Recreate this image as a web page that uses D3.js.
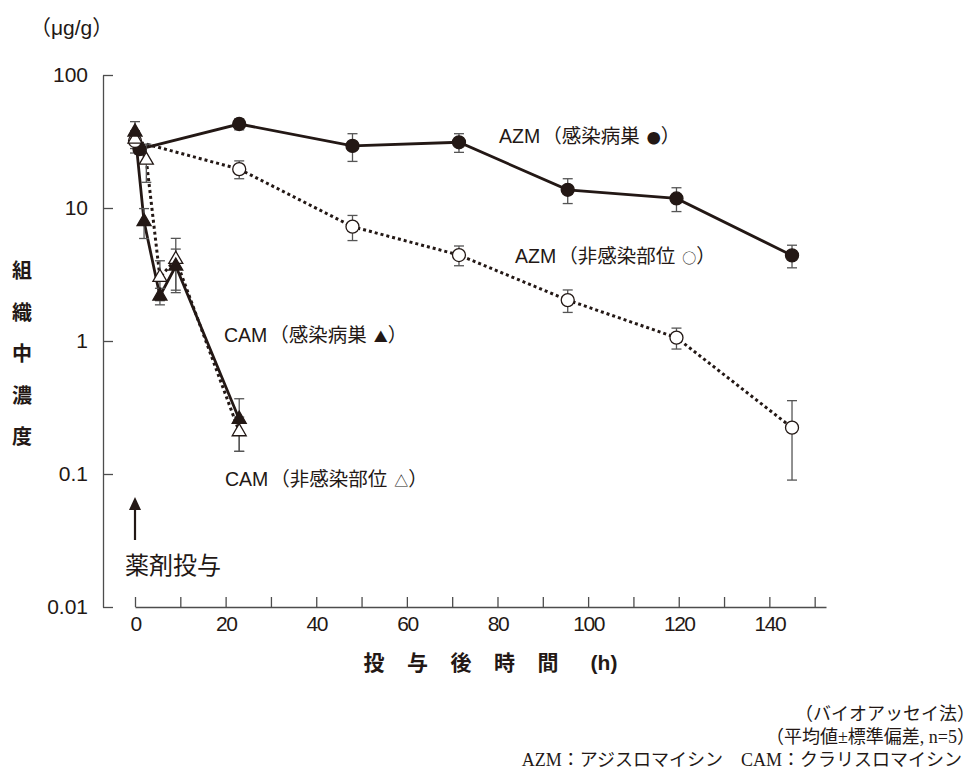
<!DOCTYPE html>
<html>
<head>
<meta charset="utf-8">
<script src="https://cdn.jsdelivr.net/npm/d3@7"></script>
<style>
	body{margin:0;background:#fff;}
	text{fill:#231815;font-family:"Liberation Sans","Noto Sans CJK JP",sans-serif;}
	.mk{font-family:"Noto Sans CJK JP",sans-serif;}
	.serif{font-family:"Liberation Serif","Noto Sans CJK JP",serif;}
</style>
</head>
<body>
<script>
// time (h), mean (ug/g), SD
var azmInfTime = [1, 23, 48, 71.5, 95.5, 119.5, 145];
var azmInfMean = [27.7, 42.8, 29.3, 31.2, 13.7, 11.8, 4.4];
var azmInfSd   = [2.4, 4.1, 6.9, 5.0, 2.9, 2.4, 0.85];

var azmNonTime = [0, 23, 48, 71.5, 95.5, 119.5, 145];
var azmNonMean = [31.9, 19.6, 7.24, 4.43, 2.03, 1.06, 0.223];
var azmNonSd   = [6, 3.0, 1.55, 0.75, 0.39, 0.19, 0.133];

var camInfTime = [0, 2, 5.5, 9, 23];
var camInfMean = [37.3, 7.9, 2.18, 3.66, 0.258];
var camInfSd   = [7.3, 2.0, 0.31, 1.25, 0.11];

var camNonTime = [0, 2.5, 5.5, 9, 23];
var camNonMean = [33, 22.9, 3.01, 4.11, 0.208];
var camNonSd   = [5, 7.3, 1.0, 1.8, 0.06];

var yTicks = [0.01, 0.1, 1, 10, 100];
var yTickLabels = ["0.01", "0.1", "1", "10", "100"];
var xTicks = [0, 10, 20, 30, 40, 50, 60, 70, 80, 90, 100, 110, 120, 130, 140, 150];
var xTickLabels = ["0", "", "20", "", "40", "", "60", "", "80", "", "100", "", "120", "", "140", ""];

var ink = "#231815";
var axisColor = "#4d4d4d";

var svg = d3.select("body")
	.append("svg")
	.attr("width", 974)
	.attr("height", 772);

var x = d3.scaleLinear().domain([0, 152.5]).range([135, 826]);
var y = d3.scaleLog().domain([0.01, 100]).range([607, 75]);

// axes
var yAxis = d3.axisLeft(y)
	.tickValues(yTicks)
	.tickFormat(function(d, i){ return yTickLabels[i]; })
	.tickSizeInner(-10)
	.tickSizeOuter(0)
	.tickPadding(15);

var gy = svg.append("g")
	.attr("transform", "translate(103,0)")
	.call(yAxis);
gy.selectAll("path,line").attr("stroke", axisColor).attr("stroke-width", 1.3);
gy.selectAll("text").style("font-size", "21px").attr("fill", ink);

var xAxis = d3.axisBottom(x)
	.tickValues(xTicks)
	.tickFormat(function(d, i){ return xTickLabels[i]; })
	.tickSizeInner(-10)
	.tickSizeOuter(0)
	.tickPadding(9);

var gx = svg.append("g")
	.attr("transform", "translate(0,607)")
	.call(xAxis);
gx.selectAll("path,line").attr("stroke", axisColor).attr("stroke-width", 1.3);
gx.selectAll("text").style("font-size", "21px").style("letter-spacing", "-1.5px").attr("fill", ink);

// series
var series = [
	{t: azmInfTime, m: azmInfMean, s: azmInfSd, dash: null, shape: "circle", fill: ink},
	{t: azmNonTime, m: azmNonMean, s: azmNonSd, dash: "3,3", shape: "circle", fill: "#fff"},
	{t: camNonTime, m: camNonMean, s: camNonSd, dash: "3,3", shape: "triangle", fill: "#fff"},
	{t: camInfTime, m: camInfMean, s: camInfSd, dash: null, shape: "triangle", fill: ink}
];

series.forEach(function(sr){
	sr.pts = sr.t.map(function(t, i){ return {t: t, m: sr.m[i], s: sr.s[i]}; });
});

var line = d3.line()
	.x(function(d){ return x(d.t); })
	.y(function(d){ return y(d.m); });

series.forEach(function(sr){
	svg.append("path")
		.attr("d", line(sr.pts))
		.attr("fill", "none")
		.attr("stroke", ink)
		.attr("stroke-width", sr.dash ? 3 : 2.8)
		.attr("stroke-dasharray", sr.dash);
});

// error bars
series.forEach(function(sr){
	var g = svg.append("g").attr("stroke", "#555").attr("stroke-width", 1.3);
	sr.pts.forEach(function(d){
		var hi = y(d.m + d.s), lo = y(Math.max(d.m - d.s, 0.011)), cx = x(d.t);
		g.append("line").attr("x1", cx).attr("x2", cx).attr("y1", hi).attr("y2", lo);
		g.append("line").attr("x1", cx - 5).attr("x2", cx + 5).attr("y1", hi).attr("y2", hi);
		g.append("line").attr("x1", cx - 5).attr("x2", cx + 5).attr("y1", lo).attr("y2", lo);
	});
});

// markers
var tri = d3.symbol().type(d3.symbolTriangle).size(85);
series.forEach(function(sr){
	var g = svg.append("g");
	if(sr.shape === "circle"){
		g.selectAll("circle").data(sr.pts).enter().append("circle")
			.attr("cx", function(d){ return x(d.t); })
			.attr("cy", function(d){ return y(d.m); })
			.attr("r", 6.5)
			.attr("fill", sr.fill)
			.attr("stroke", ink)
			.attr("stroke-width", 1.3);
	}else{
		g.selectAll("path").data(sr.pts).enter().append("path")
			.attr("d", tri)
			.attr("transform", function(d){ return "translate(" + x(d.t) + "," + y(d.m) + ")"; })
			.attr("fill", sr.fill)
			.attr("stroke", ink)
			.attr("stroke-width", 1.3);
	}
});

// labels
var labels = [
	{x: 499, y: 143, name: "AZM", site: "感染病巣", mark: "●"},
	{x: 515, y: 263, name: "AZM", site: "非感染部位", mark: "○"},
	{x: 224, y: 342, name: "CAM", site: "感染病巣", mark: "▲"},
	{x: 225, y: 486, name: "CAM", site: "非感染部位", mark: "△"}
];
labels.forEach(function(l){
	var t = svg.append("text").attr("x", l.x).attr("y", l.y).style("font-size", "19.5px");
	t.append("tspan").text(l.name);
	t.append("tspan").attr("class", "mk").attr("dx", 2).text("（" + l.site);
	t.append("tspan").attr("class", "mk").attr("dx", 7).style("font-size", "14px").text(l.mark);
	t.append("tspan").attr("class", "mk").text("）");
});

// dosing arrow
svg.append("line")
	.attr("x1", x(0)).attr("x2", x(0))
	.attr("y1", 540).attr("y2", 508)
	.attr("stroke", ink).attr("stroke-width", 2.2);
svg.append("path")
	.attr("d", "M" + (x(0) - 6) + ",510L" + x(0) + ",497L" + (x(0) + 6) + ",510Z")
	.attr("fill", ink);
svg.append("text").attr("x", 125).attr("y", 574).style("font-size", "24px").text("薬剤投与");

// axis titles
svg.append("text").attr("x", 30).attr("y", 35).style("font-size", "21px").text("（μg/g）");

var yTitle = ["組", "織", "中", "濃", "度"];
svg.selectAll("text.yt").data(yTitle).enter().append("text")
	.attr("class", "yt")
	.attr("x", 22)
	.attr("y", function(d, i){ return 278 + i * 41.5; })
	.attr("text-anchor", "middle")
	.style("font-size", "20px")
	.style("font-weight", "bold")
	.text(function(d){ return d; });

var xTitle = ["投", "与", "後", "時", "間"];
svg.selectAll("text.xt").data(xTitle).enter().append("text")
	.attr("class", "xt")
	.attr("x", function(d, i){ return 374 + i * 43.5; })
	.attr("y", 670)
	.attr("text-anchor", "middle")
	.style("font-size", "21px")
	.style("font-weight", "bold")
	.text(function(d){ return d; });
svg.append("text").attr("x", 604).attr("y", 670).attr("text-anchor", "middle")
	.style("font-size", "21px").style("font-weight", "bold").text("(h)");

// notes
var notes = [
	{x: 975, y: 720, s: "（バイオアッセイ法）"},
	{x: 975, y: 743, s: "（平均値±標準偏差, n=5）"},
	{x: 962, y: 766, s: "AZM：アジスロマイシン　CAM：クラリスロマイシン"}
];
svg.selectAll("text.note").data(notes).enter().append("text")
	.attr("class", "note serif")
	.attr("x", function(d){ return d.x; })
	.attr("y", function(d){ return d.y; })
	.attr("text-anchor", "end")
	.style("font-size", "18px")
	.text(function(d){ return d.s; });
</script>
</body>
</html>
